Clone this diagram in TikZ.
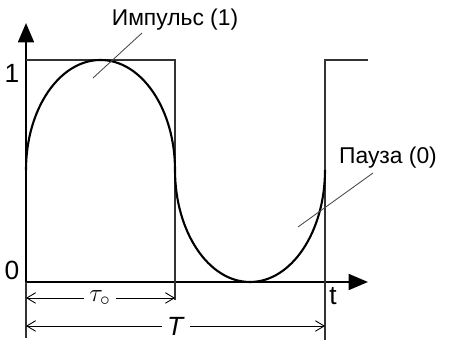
\documentclass[tikz,border=0pt]{standalone}
\usepackage{fontspec}
\setmainfont{Liberation Sans}
\usetikzlibrary{arrows.meta}
\tikzset{
  axis/.style={line width=1.3pt,-{Triangle[length=11pt,width=9pt]}},
  wave/.style={line width=1.2pt},
  guide/.style={line width=0.6pt,black!80},
  dim/.style={line width=0.5pt,{Straight Barb[length=5pt,width=6pt]}-{Straight Barb[length=5pt,width=6pt]}},
  leader/.style={line width=0.5pt,black!70},
  lbl/.style={font=\fontsize{13}{15}\selectfont},
  big/.style={font=\fontsize{15}{17}\selectfont}
}
\begin{document}
\begin{tikzpicture}[x=0.02cm,y=0.02cm]
  \useasboundingbox (-26,-58) rectangle (423,282);
  % axes
  \coordinate (o) at (0,0);
  \coordinate (ytip) at (0,259);
  \coordinate (xtip) at (342,0);
  \draw[axis] (o) -- (ytip);
  \draw[axis] (o) -- (xtip);
  \draw[guide] (o) -- (0,-56);
  % ideal pulse
  \draw[guide] (0,222) -- (149,222) -- (149,-18);
  \draw[guide] (299,-58) -- (299,222) -- (342,222);
  % real signal
  \draw[wave] (0,112) arc[start angle=180,end angle=0,x radius=74.5,y radius=110]
              arc[start angle=180,end angle=360,x radius=75,y radius=112];
  % labels
  \node[big] (one) at (-14,209) {1};
  \node[big] (zero) at (-14,12) {0};
  \node[big] (t) at (307,-14) {t};
  \node[lbl] (imp) at (149,262) {Импульс (1)};
  \node[lbl] (pause) at (362,124) {Пауза (0)};
  \draw[leader] (116,249) -- (67,204);
  \draw[leader] (347,109) -- (272,55);
  % durations
  \draw[dim] (0,-16) -- (149,-16);
  \node[big,fill=white,inner sep=3pt] (tau) at (74,-16) {$\tau_{\circ}$};
  \draw[dim] (0,-44) -- (299,-44);
  \node[big,fill=white,inner sep=3pt] (per) at (150,-44) {\textit{T}};
\end{tikzpicture}
\end{document}
